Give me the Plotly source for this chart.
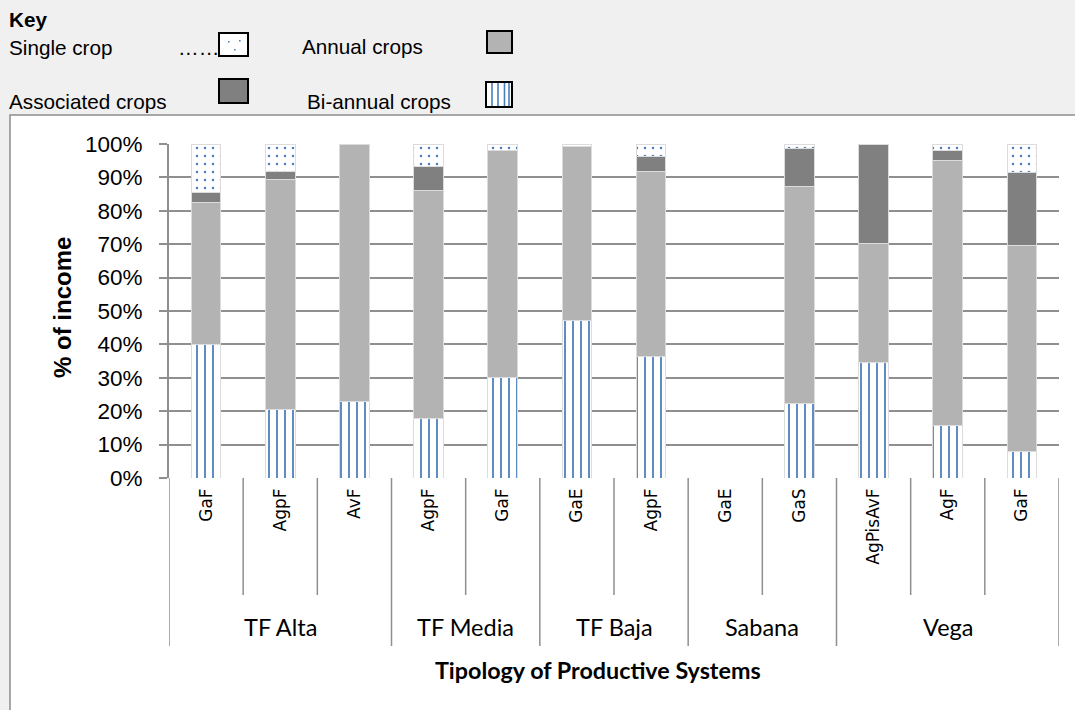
import plotly.graph_objects as go

# ---------------- data ----------------
groups = ["TF Alta", "TF Alta", "TF Alta", "TF Media", "TF Media", "TF Baja", "TF Baja",
          "Sabana", "Sabana", "Vega", "Vega", "Vega"]
systems = ["GaF", "AgpF", "AvF", "AgpF", "GaF", "GaE", "AgpF", "GaE", "GaS", "AgPisAvF", "AgF", "GaF"]

bi_annual = [40.0, 20.4, 22.8, 17.7, 30.1, 47.3, 36.5, 0, 22.4, 34.6, 15.7, 7.8]
annual = [42.4, 69.1, 77.2, 68.5, 67.9, 52.1, 55.3, 0, 64.8, 35.7, 79.3, 61.7]
associated = [3.2, 2.2, 0, 7.0, 0, 0, 4.4, 0, 11.5, 29.7, 3.2, 22.1]
single = [14.4, 8.3, 0, 6.8, 2.0, 0.6, 3.8, 0, 1.3, 0, 1.8, 8.4]

y_ticks = [0, 10, 20, 30, 40, 50, 60, 70, 80, 90, 100]
y_ticktext = [f"{v}%" for v in y_ticks]

# ---------------- styling ----------------
BLUE = "#4a7ebb"
ANNUAL = "#b3b3b3"
ASSOC = "#808080"
GRID = "#8f8f8f"
W, H = 1075, 710
L, R, T, B = 169, 1059, 144, 478


def px(x):
    return (x - L) / (R - L)


def py(y):
    return (B - y) / (B - T)


xs = list(range(len(systems)))
bar_line = dict(color="#dcdcdc", width=1)

fig = go.Figure()
fig.add_trace(go.Bar(x=xs, y=bi_annual, name="Bi-annual crops", width=0.4,
                     marker=dict(color="white", line=bar_line,
                                 pattern=dict(shape="|", fgcolor=BLUE, bgcolor="white",
                                              size=8, solidity=0.22, fillmode="replace"))))
fig.add_trace(go.Bar(x=xs, y=annual, name="Annual crops", width=0.4,
                     marker=dict(color=ANNUAL, line=bar_line)))
fig.add_trace(go.Bar(x=xs, y=associated, name="Associated crops", width=0.4,
                     marker=dict(color=ASSOC, line=bar_line)))
fig.add_trace(go.Bar(x=xs, y=single, name="Single crop", width=0.4,
                     marker=dict(color="white", line=bar_line,
                                 pattern=dict(shape=".", fgcolor=BLUE, bgcolor="white",
                                              size=8, solidity=0.08, fillmode="replace"))))

shapes = []
# white chart box
shapes.append(dict(type="rect", xref="paper", yref="paper", layer="below",
                   x0=px(10), x1=px(1085), y0=py(720), y1=py(115),
                   fillcolor="white", line=dict(color="#8c8c8c", width=1.5)))

# category separators
bounds = [0]
for i in range(1, len(groups)):
    if groups[i] != groups[i - 1]:
        bounds.append(i)
bounds.append(len(groups))
for i in range(len(systems) + 1):
    long = i in bounds
    shapes.append(dict(type="line", xref="x", yref="paper", x0=i - 0.5, x1=i - 0.5,
                       y0=0, y1=py(646) if long else py(595),
                       line=dict(color=GRID, width=1.5)))

# legend boxes
def box(x0, x1, y0, y1, fill):
    shapes.append(dict(type="rect", xref="paper", yref="paper",
                       x0=px(x0), x1=px(x1), y0=py(y1), y1=py(y0),
                       fillcolor=fill, line=dict(color="black", width=2)))

box(219, 248, 33, 56, "white")
for (dx, dy) in [(228, 41), (239, 40), (234, 49)]:
    shapes.append(dict(type="rect", xref="paper", yref="paper",
                       x0=px(dx), x1=px(dx + 1.6), y0=py(dy + 1.6), y1=py(dy),
                       fillcolor=BLUE, line=dict(width=0)))
box(487, 512, 31, 53, ANNUAL)
box(219, 248, 79, 103, ASSOC)
box(486, 512, 82, 107, "white")
for lx in [492, 498, 504.5, 509]:
    shapes.append(dict(type="line", xref="paper", yref="paper",
                       x0=px(lx), x1=px(lx), y0=py(106), y1=py(83),
                       line=dict(color=BLUE, width=1.6)))

ann = []
LEG_FONT = dict(family="Liberation Sans, Arial", size=20.7, color="black")


def text(x, y, s, font, xanchor="left", **kw):
    ann.append(dict(xref="paper", yref="paper", x=px(x), y=py(y), text=s,
                    showarrow=False, xanchor=xanchor, yanchor="middle", font=font, **kw))

text(7, 20, "<b>Key</b>", LEG_FONT)
text(7, 47, "Single crop", LEG_FONT)
text(176, 47, "……", LEG_FONT)
text(300, 46, "Annual crops", LEG_FONT)
text(7, 101, "Associated crops", LEG_FONT)
text(305, 101, "Bi-annual crops", LEG_FONT)

# group labels
GROUP_FONT = dict(family="Lato, Open Sans", size=23.5, color="black")
for g0, g1 in zip(bounds[:-1], bounds[1:]):
    ann.append(dict(xref="x", yref="paper", x=(g0 + g1 - 1) / 2, y=py(627), text=groups[g0],
                    showarrow=False, xanchor="center", yanchor="middle", font=GROUP_FONT))

# axis titles
text(598, 670, "<b>Tipology of Productive Systems</b>",
     dict(family="Lato, Open Sans", size=23.3, color="black"), xanchor="center")
ann.append(dict(xref="paper", yref="paper", x=px(62), y=py(308), text="<b>% of income</b>",
                showarrow=False, textangle=-90, xanchor="center", yanchor="middle",
                font=dict(family="Liberation Sans, Arial", size=24, color="black")))

fig.update_layout(
    width=W, height=H, barmode="stack", showlegend=False,
    paper_bgcolor="#f0f0f0", plot_bgcolor="rgba(0,0,0,0)",
    margin=dict(l=L, r=W - R, t=T, b=H - B, pad=0),
    shapes=shapes, annotations=ann,
    xaxis=dict(range=[-0.5, len(systems) - 0.5], tickmode="array", tickvals=xs, ticktext=systems,
               tickangle=-90, ticks="", showgrid=False, showline=False, zeroline=False,
               tickfont=dict(family="DejaVu Sans, Verdana", size=17, color="black"),
               ticklabelstandoff=6, fixedrange=True),
    yaxis=dict(range=[0, 100], tickmode="array", tickvals=y_ticks, ticktext=y_ticktext,
               showgrid=True, gridcolor=GRID, gridwidth=2, zeroline=False,
               showline=True, linecolor=GRID, linewidth=2,
               ticks="outside", ticklen=8, tickcolor=GRID, tickwidth=2,
               ticklabelstandoff=12,
               tickfont=dict(family="Liberation Sans, Arial", size=22.5, color="black"),
               fixedrange=True),
)

fig.write_html("out.html", config={"displayModeBar": False},
               post_script="document.body.style.margin='0';document.body.style.padding='0';"
                           "document.body.style.overflow='hidden';")
